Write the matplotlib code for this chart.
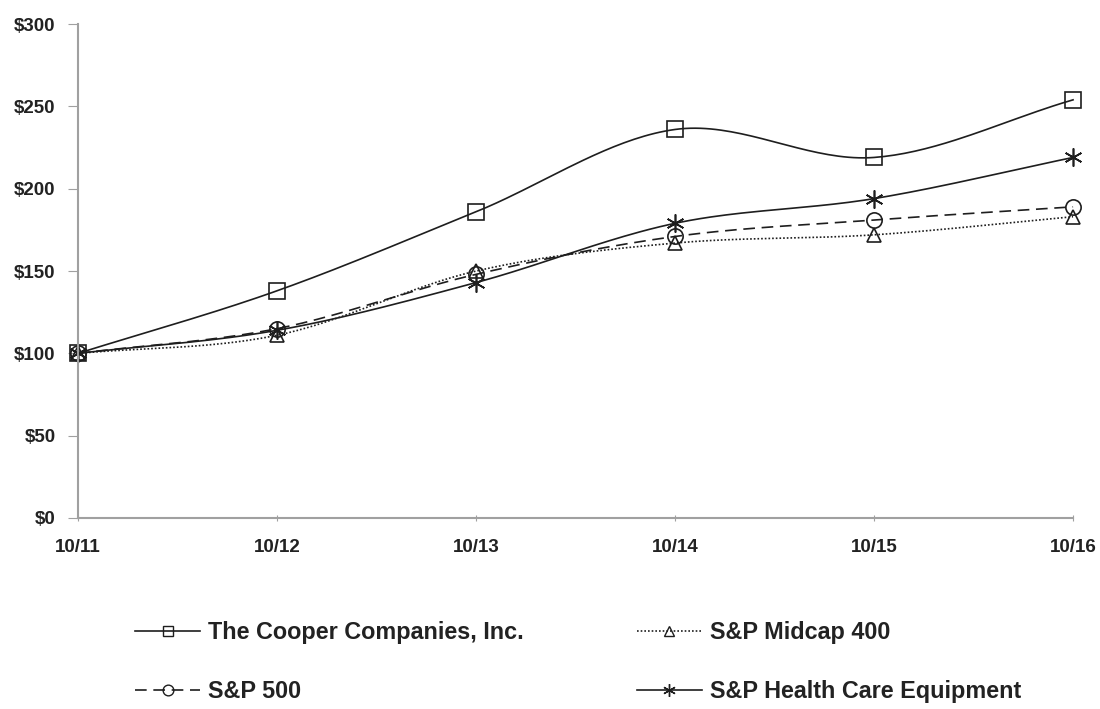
import matplotlib
matplotlib.use('Agg')
import matplotlib.pyplot as plt
from matplotlib.lines import Line2D
import numpy as np

plt.rcParams['font.family'] = ['Liberation Sans', 'DejaVu Sans']
plt.rcParams['font.weight'] = 'bold'

periods = ['10/11', '10/12', '10/13', '10/14', '10/15', '10/16']
cooper = [100, 138, 186, 236, 219, 254]
midcap = [100, 111, 150, 167, 172, 183]
sp500 = [100, 115, 148, 171, 181, 189]
health = [100, 114, 143, 179, 194, 219]

series_names = ['The Cooper Companies, Inc.', 'S&P Midcap 400', 'S&P 500', 'S&P Health Care Equipment']


def smooth(x, y, n=40):
    # catmull-rom through the points, like excel's smoothed lines
    x = np.asarray(x, float)
    y = np.asarray(y, float)
    px = np.concatenate([[2 * x[0] - x[1]], x, [2 * x[-1] - x[-2]]])
    py = np.concatenate([[2 * y[0] - y[1]], y, [2 * y[-1] - y[-2]]])
    xs, ys = [], []
    t = np.linspace(0, 1, n)
    for i in range(1, len(px) - 2):
        for p, out in ((px, xs), (py, ys)):
            p0, p1, p2, p3 = p[i - 1], p[i], p[i + 1], p[i + 2]
            out.append(0.5 * (2 * p1 + (-p0 + p2) * t + (2 * p0 - 5 * p1 + 4 * p2 - p3) * t ** 2
                              + (-p0 + 3 * p1 - 3 * p2 + p3) * t ** 3))
    return np.concatenate(xs), np.concatenate(ys)


fig = plt.figure(figsize=(11, 7.09), dpi=100)
ax = fig.add_axes([0.0709, 0.2694, 0.9046, 0.6966])

x = np.arange(len(periods))
col = '#1e1e1e'
styles = [
    (cooper, '-', 's', 11, 'none'),
    (midcap, (0, (1.0, 1.2)), '^', 10, 'none'),
    (sp500, (0, (7, 4)), 'o', 11, 'none'),
    (health, '-', (6, 2, 0), 13, col),
]
handles = []
for (vals, ls, mk, ms, fc), name in zip(styles, series_names):
    sx, sy = smooth(x, vals)
    ax.plot(sx, sy, color=col, lw=1.2, ls=ls, clip_on=False)
    ax.plot(x, vals, ls='none', marker=mk, ms=ms, mfc='none', mec=col, mew=1.2, clip_on=False)
    handles.append(Line2D([], [], color=col, lw=1.2, ls=ls, marker=mk, ms=ms * 0.7,
                          mfc='none', mec=col, mew=1.0, label=name))

ax.set_xlim(0, 5)
ax.set_ylim(0, 300)
ax.set_xticks(x)
ax.set_xticklabels(periods)
ax.set_yticks(np.arange(0, 301, 50))
ax.set_yticklabels(['$' + str(v) for v in range(0, 301, 50)])
for s in ['top', 'right']:
    ax.spines[s].set_visible(False)
for s in ['left', 'bottom']:
    ax.spines[s].set_color('#a0a0a0')
    ax.spines[s].set_linewidth(1.5)
ax.tick_params(axis='y', length=7, color='#a0a0a0', labelsize=13.5, pad=9)
ax.tick_params(axis='x', length=4, direction='inout', color='#a0a0a0', labelsize=13.5, pad=13)
for lab in ax.get_xticklabels() + ax.get_yticklabels():
    lab.set_fontweight('bold')
    lab.set_color('#222222')

order = [handles[0], handles[2], handles[1], handles[3]]
leg = fig.legend(handles=order, ncol=2, loc='upper left', bbox_to_anchor=(0.1227, 0.124),
                 frameon=False, fontsize=16.8, handlelength=2.79, handletextpad=0.34,
                 columnspacing=4.85, labelspacing=1.55, borderaxespad=0, borderpad=0)
for t in leg.get_texts():
    t.set_fontweight('bold')
    t.set_color('#222222')

fig.savefig('out.png', dpi=100)
